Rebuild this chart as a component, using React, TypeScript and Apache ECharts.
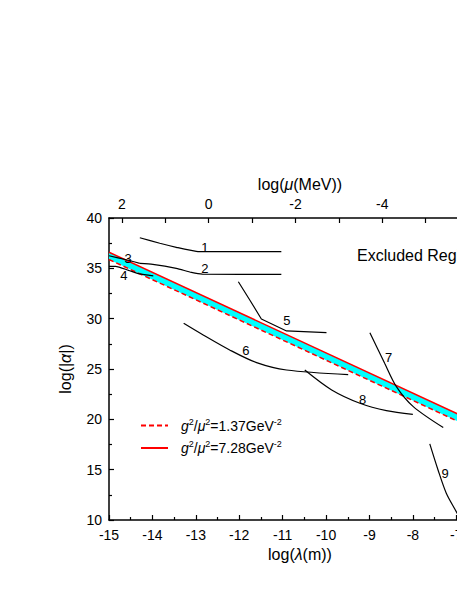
import React, { useEffect, useRef } from "react";
import * as echarts from "echarts";

const FONT = "Liberation Sans, Arial, sans-serif";

// lambda axis (bottom) range
const X_MIN = -15;
const X_MAX = -6.2;
// log10(hbar*c in MeV*m) -> log(mu) = -(log(lambda) + LOG_HBARC)
const LOG_HBARC = 12.705;
const MU_MIN = -(X_MAX + LOG_HBARC);
const MU_MAX = -(X_MIN + LOG_HBARC);
const MU_TICKS = [2, 1, 0, -1, -2, -3, -4, -5, -6];
const MU_LABELS = [2, 0, -2, -4, -6];

// two red boundary lines
const LINE_X = [-15, -6.2];
const SOLID_Y = [36.6, 19.0];
const DASHED_Y = [35.875, 18.275];
const NAME_DASH = "g2mu2_1.37";
const NAME_SOLID = "g2mu2_7.28";

// black constraint curves [lambda, log|alpha|]
const curve1 = [[-14.29, 38.04], [-13.83, 37.49], [-13.45, 37.09], [-12.99, 36.68], [-12.7, 36.65], [-11.03, 36.65]];
const curve2 = [[-14.29, 35.5], [-13.99, 35.4], [-13.45, 35.0], [-13.1, 34.6], [-12.85, 34.43], [-11.03, 34.4]];
const curve3 = [[-15, 36.25], [-14.6, 35.85], [-14.29, 35.5]];
const curve4 = [[-15, 35.2], [-14.85, 35.2], [-14.55, 34.8], [-14.3, 34.45], [-13.98, 34.25]];
const curve5 = [[-12.02, 33.67], [-11.75, 31.8], [-11.49, 29.97], [-10.91, 28.78], [-9.99, 28.61]];
const curve6 = [[-13.28, 29.54], [-12.83, 28.38], [-12.22, 26.89], [-11.6, 25.63], [-10.91, 24.9], [-9.49, 24.45]];
const curve7 = [[-8.99, 28.61], [-8.65, 25.57], [-8.38, 23.25], [-7.99, 21.26], [-7.3, 19.18]];
const curve8 = [[-10.49, 24.9], [-9.87, 22.92], [-9.22, 21.6], [-8.61, 20.86], [-8.0, 20.5]];
const curve9 = [[-7.61, 17.56], [-7.42, 14.97], [-7.23, 12.66], [-7.0, 10.83], [-6.9, 10.0]];

const CURVES = [curve1, curve2, curve3, curve4, curve5, curve6, curve7, curve8, curve9];
const CURVE_SMOOTH = [0.2, 0.2, 0.2, 0.2, 0, 0.3, 0.3, 0.3, 0.3];

// curve number labels [name, lambda, log|alpha|]
const CURVE_LABELS: [string, number, number][] = [
  ["1", -12.79, 37.05],
  ["2", -12.79, 35.0],
  ["3", -14.56, 36.0],
  ["4", -14.66, 34.27],
  ["5", -10.9, 29.77],
  ["6", -11.85, 26.82],
  ["7", -8.56, 26.17],
  ["8", -9.16, 22.0],
  ["9", -7.26, 14.58],
];

const LINE_COLOR = "#000";
const RED = "#ff0000";
const CYAN = "#00ffff";

export default function App() {
  const ref = useRef<HTMLDivElement>(null);

  useEffect(() => {
    if (!ref.current) return;
    const chart = echarts.init(ref.current, undefined, { renderer: "svg" });

    const axisLine = { onZero: false, lineStyle: { color: LINE_COLOR, width: 1.5 } };
    const tick = { inside: true, length: 5, lineStyle: { color: LINE_COLOR, width: 1.2 } };
    const minor = { show: true, splitNumber: 2, length: 3, lineStyle: { color: LINE_COLOR, width: 1.2 } };
    const label = { fontSize: 14, color: "#000", fontFamily: FONT };
    const nameStyle = {
      fontSize: 16,
      color: "#000",
      fontFamily: FONT,
      rich: { i: { fontSize: 16, fontStyle: "italic", fontFamily: FONT, color: "#000" } },
    };

    const series: any[] = [
      {
        type: "custom",
        name: "band",
        data: [[LINE_X[0], DASHED_Y[0]]],
        silent: true,
        z: 1,
        renderItem: (_params: any, api: any) => {
          const top = LINE_X.map((x, i) => api.coord([x, SOLID_Y[i]]));
          const bottom = LINE_X.map((x, i) => api.coord([x, DASHED_Y[i]])).reverse();
          return {
            type: "polygon",
            shape: { points: [...top, ...bottom] },
            style: { fill: CYAN, stroke: "none" },
          };
        },
      },
      {
        type: "line",
        name: NAME_DASH,
        data: LINE_X.map((x, i) => [x, DASHED_Y[i]]),
        symbol: "none",
        lineStyle: { color: RED, width: 1.5, type: [5, 3] },
        itemStyle: { color: RED },
        z: 2,
      },
      {
        type: "line",
        name: NAME_SOLID,
        data: LINE_X.map((x, i) => [x, SOLID_Y[i]]),
        symbol: "none",
        lineStyle: { color: RED, width: 1.5 },
        itemStyle: { color: RED },
        z: 2,
      },
      ...CURVES.map((c, i) => ({
        type: "line",
        name: "curve" + (i + 1),
        data: c,
        symbol: "none",
        smooth: CURVE_SMOOTH[i],
        lineStyle: { color: LINE_COLOR, width: 1.2 },
        z: 3,
      })),
      {
        type: "scatter",
        name: "labels",
        data: CURVE_LABELS.map(([n, x, y]) => ({ name: n, value: [x, y] })),
        symbolSize: 1,
        itemStyle: { color: "transparent", opacity: 1 },
        label: {
          show: true,
          position: "inside",
          formatter: "{b}",
          fontSize: 13,
          color: "#000",
          opacity: 1,
          textBorderWidth: 0,
          textBorderColor: "transparent",
          fontFamily: FONT,
        },
        z: 4,
      },
    ];

    const legendRich = {
      g0: { fontSize: 14, fontStyle: "italic", fontFamily: FONT, color: "#000", padding: [0, 0, 0, 8] },
      g: { fontSize: 14, fontStyle: "italic", fontFamily: FONT, color: "#000" },
      t: { fontSize: 14, fontFamily: FONT, color: "#000" },
      s: { fontSize: 9, fontFamily: FONT, color: "#000", padding: [0, 0, 8, 0] },
    };

    chart.setOption({
      animation: false,
      textStyle: { fontFamily: FONT },
      grid: { left: 109, top: 218, width: 382, height: 302 },
      legend: {
        data: [NAME_DASH, NAME_SOLID],
        orient: "vertical",
        left: 135,
        top: 412,
        itemWidth: 27,
        itemHeight: 14,
        itemGap: 7,
        itemStyle: { opacity: 0 },
        formatter: (n: string) =>
          n === NAME_DASH
            ? "{g0|g}{s|2}{t|/}{g|μ}{s|2}{t|=1.37GeV}{s|-2}"
            : "{g0|g}{s|2}{t|/}{g|μ}{s|2}{t|=7.28GeV}{s|-2}",
        textStyle: { fontSize: 14, color: "#000", fontFamily: FONT, rich: legendRich },
      },
      xAxis: [
        {
          type: "value",
          position: "bottom",
          min: X_MIN,
          max: X_MAX,
          interval: 1,
          name: "log({i|λ}(m))",
          nameLocation: "middle",
          nameGap: 25,
          nameTextStyle: nameStyle,
          axisLine,
          axisTick: tick,
          minorTick: minor,
          axisLabel: { ...label, margin: 8 },
          splitLine: { show: false },
        },
        {
          type: "value",
          position: "top",
          inverse: true,
          min: MU_MIN,
          max: MU_MAX,
          name: "log({i|μ}(MeV))",
          nameLocation: "middle",
          nameGap: 24,
          nameTextStyle: nameStyle,
          axisLine,
          axisTick: { ...tick, customValues: MU_TICKS },
          axisLabel: { ...label, margin: 7, customValues: MU_LABELS },
          splitLine: { show: false },
        },
      ],
      yAxis: {
        type: "value",
        min: 10,
        max: 40,
        interval: 5,
        name: "log(|{i|α}|)",
        nameLocation: "middle",
        nameGap: 36,
        nameTextStyle: nameStyle,
        axisLine,
        axisTick: tick,
        minorTick: minor,
        axisLabel: { ...label, margin: 7 },
        splitLine: { show: false },
      },
      graphic: [
        {
          type: "text",
          left: 357,
          top: 247,
          style: { text: "Excluded Region", fontSize: 16, fill: "#000", fontFamily: FONT },
        },
      ],
      series,
    });

    return () => chart.dispose();
  }, []);

  return (
    <div
      style={{
        position: "fixed",
        left: 0,
        top: 0,
        width: 457,
        height: 591,
        overflow: "hidden",
        background: "#fff",
      }}
    >
      <div ref={ref} style={{ width: 560, height: 591 }} />
    </div>
  );
}
